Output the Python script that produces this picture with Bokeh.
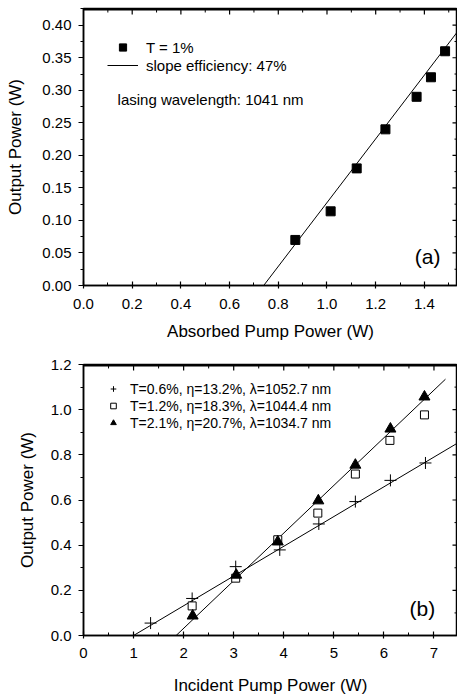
from bokeh.plotting import figure
from bokeh.layouts import column
from bokeh.models import (Range1d, SingleIntervalTicker, NumeralTickFormatter,
                          Legend, LegendItem, Label, BoxAnnotation)
from bokeh.embed import file_html
from bokeh.resources import INLINE

# ---------------- data: panel (a) ----------------
a_pump = [0.87, 1.015, 1.122, 1.24, 1.368, 1.427, 1.485]
a_out = [0.070, 0.114, 0.180, 0.240, 0.290, 0.320, 0.360]
a_fit_x = [0.74, 1.54]
a_fit_y = [0.0, 0.392]
a_xmajor = [0.2, 0.4, 0.6, 0.8, 1.0, 1.2, 1.4]
a_xminor = [0.1, 0.3, 0.5, 0.7, 0.9, 1.1, 1.3, 1.5]
a_ymajor = [0.05, 0.10, 0.15, 0.20, 0.25, 0.30, 0.35, 0.40]
a_yminor = [0.025, 0.075, 0.125, 0.175, 0.225, 0.275, 0.325, 0.375]

# ---------------- data: panel (b) ----------------
b_x06 = [1.34, 2.17, 3.04, 3.92, 4.70, 5.43, 6.13, 6.83]
b_y06 = [0.055, 0.164, 0.305, 0.379, 0.494, 0.593, 0.687, 0.764]
b_x12 = [2.17, 3.04, 3.88, 4.68, 5.43, 6.12, 6.81]
b_y12 = [0.131, 0.254, 0.424, 0.542, 0.715, 0.864, 0.977]
b_x21 = [2.18, 3.05, 3.88, 4.69, 5.43, 6.13, 6.81]
b_y21 = [0.087, 0.268, 0.415, 0.597, 0.755, 0.915, 1.057]
b_fit06_x = [1.0, 7.47]
b_fit06_y = [0.0, 0.852]
b_fit21_x = [1.85, 7.23]
b_fit21_y = [0.0, 1.135]
b_xmajor = [1, 2, 3, 4, 5, 6, 7]
b_xminor = [0.5, 1.5, 2.5, 3.5, 4.5, 5.5, 6.5]
b_ymajor = [0.2, 0.4, 0.6, 0.8, 1.0]
b_yminor = [0.1, 0.3, 0.5, 0.7, 0.9, 1.1]

labels_b = ["T=0.6%, \u03b7=13.2%, \u03bb=1052.7 nm",
            "T=1.2%, \u03b7=18.3%, \u03bb=1044.4 nm",
            "T=2.1%, \u03b7=20.7%, \u03bb=1034.7 nm"]

FONT = "Liberation Sans"
FRAME_W = 374


def style(p, frame_h, xint, yint, xfmt, yfmt, xlabel, ylabel, ylabel_standoff, xlab_standoff,
          xtitle_standoff, xmaj, xmin_, ymaj, ymin_):
    p.outline_line_color = "black"
    p.outline_line_width = 1.5
    p.xgrid.visible = False
    p.ygrid.visible = False
    p.xaxis.ticker = SingleIntervalTicker(interval=xint, num_minor_ticks=2)
    p.yaxis.ticker = SingleIntervalTicker(interval=yint, num_minor_ticks=2)
    p.xaxis.formatter = NumeralTickFormatter(format=xfmt)
    p.yaxis.formatter = NumeralTickFormatter(format=yfmt)
    for ax in (p.xaxis[0], p.yaxis[0]):
        ax.axis_line_color = "black"
        ax.axis_line_width = 1.5
        ax.major_tick_line_color = "black"
        ax.minor_tick_line_color = "black"
        ax.major_tick_line_width = 1.2
        ax.minor_tick_line_width = 1.0
        ax.major_label_text_font = FONT
        ax.major_label_text_font_size = "15px"
        ax.major_label_text_color = "black"
        ax.axis_label_text_font = FONT
        ax.axis_label_text_font_size = "17px"
        ax.axis_label_text_font_style = "normal"
        ax.axis_label_text_color = "black"
    xa = p.xaxis[0]
    xa.axis_label = xlabel
    xa.major_tick_in = 4
    xa.major_tick_out = 3
    xa.minor_tick_in = 3
    xa.minor_tick_out = 0
    xa.major_label_standoff = xlab_standoff
    xa.axis_label_standoff = xtitle_standoff
    ya = p.yaxis[0]
    ya.axis_label = ylabel
    ya.major_tick_in = 0
    ya.major_tick_out = 5
    ya.minor_tick_in = 0
    ya.minor_tick_out = 3
    ya.major_label_standoff = 7
    ya.axis_label_standoff = ylabel_standoff

    # top frame band and mirrored inward ticks on the top and right edges
    ytop = p.y_range.end
    xright = p.x_range.end
    ypx = ytop / frame_h
    xpx = xright / FRAME_W
    p.add_layout(BoxAnnotation(bottom=ytop - 2 * ypx, fill_color="black", fill_alpha=1,
                               line_color=None))
    p.segment(x0=xmaj, x1=xmaj, y0=[ytop] * len(xmaj), y1=[ytop - 6 * ypx] * len(xmaj),
              line_color="black", line_width=1.2)
    p.segment(x0=xmin_, x1=xmin_, y0=[ytop] * len(xmin_), y1=[ytop - 4 * ypx] * len(xmin_),
              line_color="black", line_width=1.0)
    p.segment(x0=[xright] * len(ymaj), x1=[xright - 5 * xpx] * len(ymaj), y0=ymaj, y1=ymaj,
              line_color="black", line_width=1.2)
    p.segment(x0=[xright] * len(ymin_), x1=[xright - 3 * xpx] * len(ymin_), y0=ymin_, y1=ymin_,
              line_color="black", line_width=1.0)


# ---------------- panel (a) ----------------
p1 = figure(width=457, height=345, output_backend="svg", toolbar_location=None,
            x_range=Range1d(0, 1.536), y_range=Range1d(0, 0.4257),
            min_border_left=83, min_border_right=0, min_border_top=8, min_border_bottom=60)
style(p1, 277, 0.2, 0.05, "0.0", "0.00", "Absorbed Pump Power (W)", "Output Power (W)", 14, 10,
      10, a_xmajor, a_xminor, a_ymajor, a_yminor)

fit_a = p1.line(a_fit_x, a_fit_y, line_color="black", line_width=1)
pts_a = p1.scatter(a_pump, a_out, marker="square", size=9, fill_color="black", line_color="black")

leg1 = Legend(items=[LegendItem(label="T = 1%", renderers=[pts_a]),
                     LegendItem(label="slope efficiency: 47%", renderers=[fit_a])],
              location=(24, 211), padding=0, spacing=0, margin=0,
              glyph_width=31, glyph_height=18, label_height=18, label_standoff=8,
              border_line_color=None, background_fill_alpha=0,
              label_text_font=FONT, label_text_font_size="15px", label_text_color="black")
p1.add_layout(leg1)

p1.add_layout(Label(x=0.14, y=0.286, text="lasing wavelength: 1041 nm", text_font=FONT,
                    text_font_size="15px", text_baseline="middle", text_align="left",
                    text_color="black"))
p1.add_layout(Label(x=1.413, y=0.0446, text="(a)", text_font=FONT, text_font_size="21px",
                    text_baseline="middle", text_align="center", text_color="black"))

# ---------------- panel (b) ----------------
p2 = figure(width=457, height=352, output_backend="svg", toolbar_location=None,
            x_range=Range1d(0, 7.47), y_range=Range1d(0, 1.2001),
            min_border_left=83, min_border_right=0, min_border_top=19, min_border_bottom=58)
style(p2, 275, 1, 0.2, "0", "0.0", "Incident Pump Power (W)", "Output Power (W)", 11, 9, 15,
      b_xmajor, b_xminor, b_ymajor, b_yminor)

p2.line(b_fit06_x, b_fit06_y, line_color="black", line_width=1)
p2.line(b_fit21_x, b_fit21_y, line_color="black", line_width=1)
r06 = p2.scatter(b_x06, b_y06, marker="cross", size=12, line_color="black", line_width=1)
r12 = p2.scatter(b_x12, b_y12, marker="square", size=8, fill_color="white", line_color="black",
                 line_width=1)
r21 = p2.scatter(b_x21, b_y21, marker="triangle", size=11, fill_color="black", line_color="black")

leg2 = Legend(items=[LegendItem(label=labels_b[0], renderers=[r06]),
                     LegendItem(label=labels_b[1], renderers=[r12]),
                     LegendItem(label=labels_b[2], renderers=[r21])],
              location=(23, 204), padding=0, spacing=0, margin=0,
              glyph_width=14, glyph_height=17, label_height=17, label_standoff=10,
              border_line_color=None, background_fill_alpha=0,
              label_text_font=FONT, label_text_font_size="14px", label_text_color="black")
p2.add_layout(leg2)

p2.add_layout(Label(x=6.77, y=0.12, text="(b)", text_font=FONT, text_font_size="21px",
                    text_baseline="middle", text_align="center", text_color="black"))

layout = column(p1, p2, spacing=0)
open("out.html", "w").write(file_html(layout, INLINE))
